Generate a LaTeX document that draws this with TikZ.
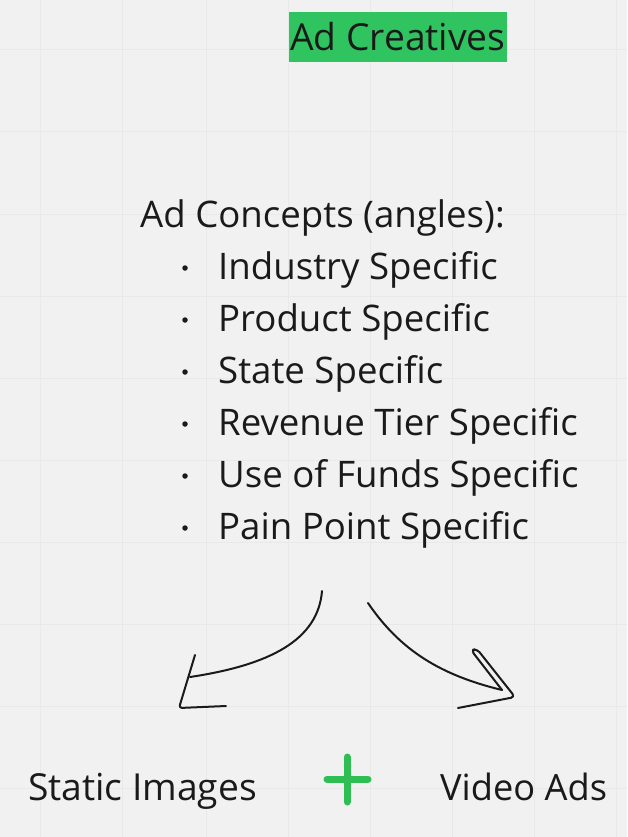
\documentclass[tikz,border=0pt]{standalone}
\usepackage{fontspec}
\setmainfont{Open Sans}
\definecolor{bgc}{RGB}{241,241,241}
\definecolor{gridc}{RGB}{233,233,233}
\definecolor{boxgreen}{RGB}{48,196,96}
\definecolor{plusgreen}{RGB}{46,190,84}
\definecolor{ink}{RGB}{26,26,26}
\begin{document}
\begin{tikzpicture}[x=1pt,y=-1pt,
  txt/.style={anchor=base west,inner sep=0pt,text=ink,font=\fontsize{36.6}{44}\selectfont},
  bigtxt/.style={txt,font=\fontsize{37.2}{44}\selectfont},
  bul/.style={circle,fill=ink,inner sep=0pt,minimum size=5.5pt},
  hand/.style={draw=ink,line width=2pt,line cap=round,line join=round},
  plusline/.style={draw=plusgreen,line width=7pt,line cap=round}]
\fill[bgc] (0,0) rectangle (627,837);
\useasboundingbox (0,0) rectangle (627,837);
\foreach \gx in {40,122,206,288,370,452,534,616}{\draw[gridc,line width=1pt] (\gx,0) -- (\gx,837);}
\foreach \gy in {50,132,214,296,378,460,542,624,706,788}{\draw[gridc,line width=1pt] (0,\gy) -- (627,\gy);}
% title
\fill[boxgreen] (289,12) rectangle (507,62);
\node[bigtxt] (title) at (290,51) {Ad Creatives};
% concepts
\node[txt] (head) at (140,227) {Ad Concepts (angles):};
\foreach \i/\t in {0/Industry Specific,1/Product Specific,2/State Specific,3/Revenue Tier Specific,4/Use of Funds Specific,5/Pain Point Specific}{
  \node[txt] (item\i) at (218,279+52*\i) {\t};
  \node[bul] (dot\i) at (185,268+52*\i) {};
}
% hand-drawn arrows
\coordinate (ls) at (322,591);
\coordinate (le) at (190,677);
\coordinate (rs) at (368,603);
\coordinate (re) at (502,690);
\draw[hand] (ls) .. controls (318,640) and (270,665) .. (le);
\draw[hand,rounded corners=3pt] (195,655) -- (179,708) -- (226,706);
\draw[hand] (rs) .. controls (400,650) and (440,675) .. (re);
\draw[hand,rounded corners=4pt] (re) -- (471,650) -- (477,649) -- (515,697) -- (458,708);
% bottom
\node[bigtxt] (static) at (28,800) {Static Images};
\node[txt,font=\fontsize{36.2}{44}\selectfont] (video) at (440,800) {Video Ads};
\draw[plusline] (347,757) -- (347,802);
\draw[plusline] (327,779) -- (368,779);
\end{tikzpicture}
\end{document}
